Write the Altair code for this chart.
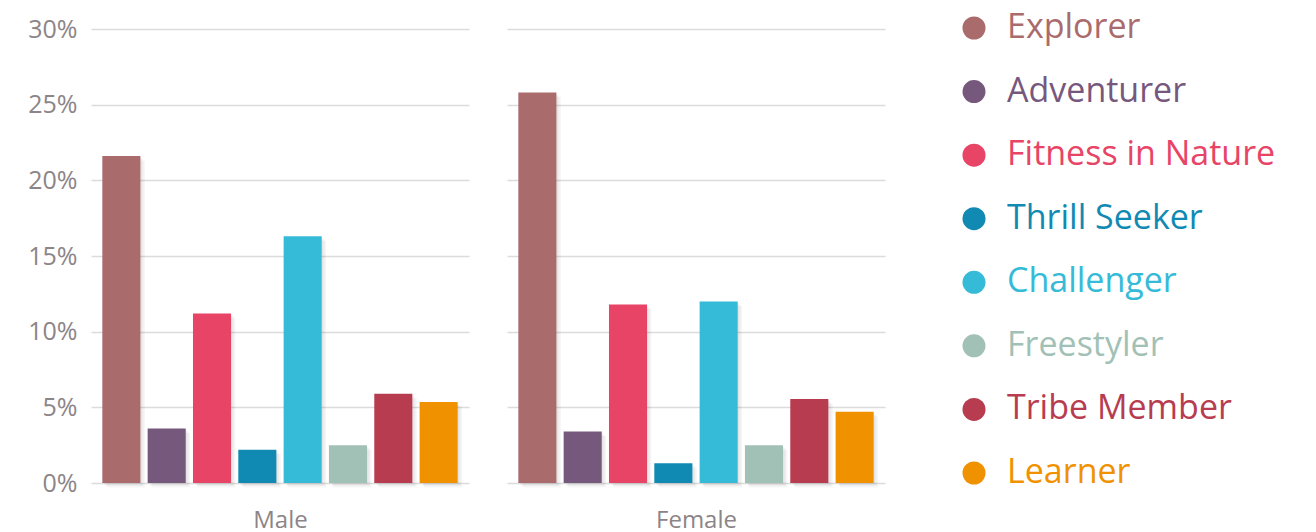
import altair as alt
import pandas as pd

# Segment names, colours and shares (%) by gender
categories = ["Explorer", "Adventurer", "Fitness in Nature", "Thrill Seeker",
              "Challenger", "Freestyler", "Tribe Member", "Learner"]
colors = ["#AA6B6D", "#77587D", "#E84466", "#108AB3",
          "#35BAD8", "#A2C1B6", "#B73C50", "#F09100"]
male = [21.6, 3.6, 11.2, 2.2, 16.3, 2.5, 5.9, 5.35]
female = [25.8, 3.4, 11.8, 1.3, 12.0, 2.5, 5.55, 4.7]
tick_values = [0, 5, 10, 15, 20, 25, 30]

FONT = "Open Sans"
GRAY = "#8C8588"
GRID = "#DCDCDC"

color_scale = alt.Scale(domain=categories, range=colors)


def panel(values, title, show_labels):
    df = pd.DataFrame({"segment": categories, "share": values})
    x = alt.X(
        "segment:N", sort=categories,
        scale=alt.Scale(paddingInner=0.16, paddingOuter=0.25),
        axis=alt.Axis(title=title, labels=False, ticks=False, domain=False,
                      titleFontSize=24, titleColor=GRAY, titleFont=FONT,
                      titleFontWeight="normal", titlePadding=25),
    )
    y = alt.Y(
        "share:Q",
        scale=alt.Scale(domain=[0, 30], nice=False),
        axis=alt.Axis(values=tick_values, labelExpr="datum.value + '%'",
                      title=None, ticks=False, domain=False, grid=True,
                      gridColor=GRID, gridWidth=1.5, labels=show_labels,
                      labelFontSize=25, labelColor=GRAY, labelFont=FONT,
                      labelPadding=14),
    )
    # soft drop shadow built from a few faint offset copies
    shadows = [
        alt.Chart(df).mark_bar(color="#000000", opacity=0.035,
                               xOffset=off, yOffset=off).encode(x=x, y=y)
        for off in (1.5, 3, 4.5)
    ]
    bars = alt.Chart(df).mark_bar().encode(
        x=x, y=y,
        color=alt.Color("segment:N", scale=color_scale, legend=None),
    )
    return alt.layer(*shadows, bars).properties(width=378, height=454)


male_chart = panel(male, "Male", True)
female_chart = panel(female, "Female", False)

# Custom legend: coloured dot and coloured label per segment
leg_df = pd.DataFrame({"segment": categories, "row": list(range(len(categories)))})
ly = alt.Y("row:Q", scale=alt.Scale(domain=[0, 7], range=[-1, 444]), axis=None)
dots = alt.Chart(leg_df).mark_circle(size=530, opacity=1).encode(
    x=alt.value(15), y=ly,
    color=alt.Color("segment:N", scale=color_scale, legend=None),
)
labels = alt.Chart(leg_df).mark_text(
    align="left", baseline="middle", fontSize=34, font=FONT
).encode(
    x=alt.value(48), y=ly, text="segment:N",
    color=alt.Color("segment:N", scale=color_scale, legend=None),
)
legend_chart = alt.layer(dots, labels).properties(width=330, height=454)

chart = alt.hconcat(
    alt.hconcat(male_chart, female_chart, spacing=38),
    legend_chart,
    spacing=74,
).properties(
    padding={"left": 27, "top": 11, "right": 5, "bottom": 5},
    background="white",
).configure(font=FONT).configure_view(stroke=None)

chart.save("out.html", embed_options={"renderer": "svg", "actions": False})
